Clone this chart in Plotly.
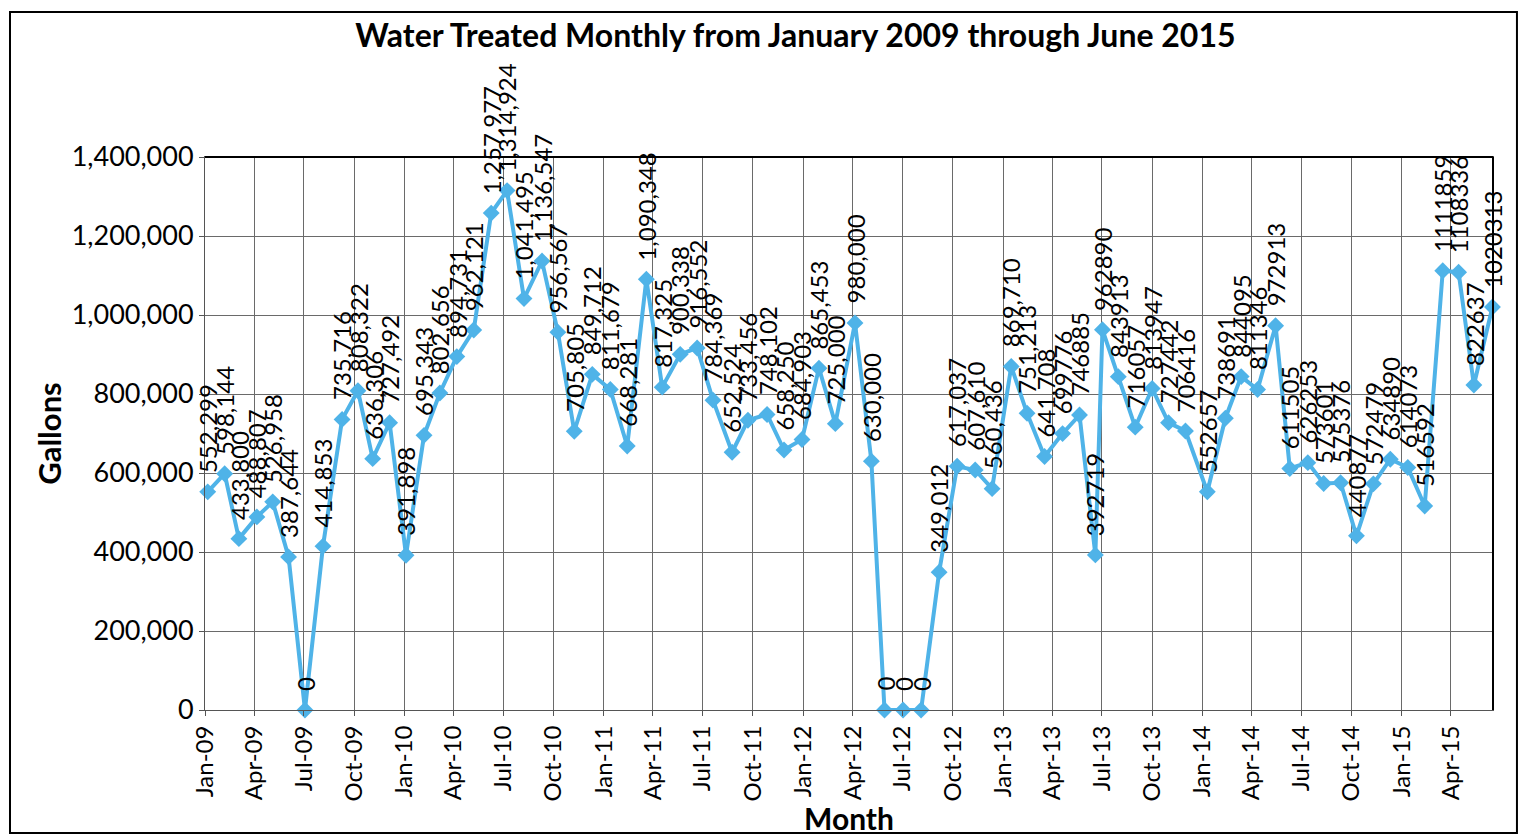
import plotly.graph_objects as go

# Reading dates and gallons treated
dates = [
    "2009-01-06", "2009-02-06", "2009-03-04", "2009-04-06", "2009-05-05", "2009-06-03",
    "2009-07-03", "2009-08-05", "2009-09-09", "2009-10-08", "2009-11-04", "2009-12-05",
    "2010-01-04", "2010-02-06", "2010-03-07", "2010-04-07", "2010-05-08", "2010-06-09",
    "2010-07-08", "2010-08-08", "2010-09-10", "2010-10-09", "2010-11-08", "2010-12-11",
    "2011-01-13", "2011-02-13", "2011-03-20", "2011-04-18", "2011-05-21", "2011-06-21",
    "2011-07-20", "2011-08-24", "2011-09-22", "2011-10-27", "2011-11-27", "2011-12-30",
    "2012-01-30", "2012-02-29", "2012-04-05", "2012-05-05", "2012-05-29", "2012-07-02",
    "2012-08-04", "2012-09-06", "2012-10-09", "2012-11-11", "2012-12-12", "2013-01-16",
    "2013-02-14", "2013-03-18", "2013-04-20", "2013-05-21", "2013-06-19", "2013-07-02",
    "2013-07-31", "2013-08-31", "2013-10-01", "2013-10-31", "2013-12-01", "2014-01-10",
    "2014-02-12", "2014-03-13", "2014-04-12", "2014-05-15", "2014-06-10", "2014-07-13",
    "2014-08-11", "2014-09-11", "2014-10-10", "2014-11-10", "2014-12-11", "2015-01-12",
    "2015-02-12", "2015-03-17", "2015-04-15", "2015-05-13", "2015-06-16",
]

gallons = [
    552299, 598144, 433800, 488807, 526958, 387644,
    0, 414853, 735716, 808322, 636306, 727492,
    391898, 695343, 802656, 894731, 962121, 1257977,
    1314924, 1041495, 1136547, 956567, 705805, 849712,
    811679, 668281, 1090348, 817325, 900338, 916552,
    784369, 652524, 733456, 748102, 658250, 684903,
    865453, 725000, 980000, 630000, 0, 0,
    0, 349012, 617037, 607610, 560436, 869710,
    751213, 641708, 699776, 746885, 392719, 962890,
    843913, 716057, 813947, 727442, 706416, 552657,
    738691, 844095, 811346, 972913, 611505, 626253,
    573601, 575376, 440877, 572479, 634890, 614073,
    516592, 1111859, 1108336, 822637, 1020313,
]

# The first labels in the source use thousands separators, later ones do not
comma_label_count = 50

y_ticks = [0, 200000, 400000, 600000, 800000, 1000000, 1200000, 1400000]
y_tick_text = ["0", "200,000", "400,000", "600,000", "800,000", "1,000,000", "1,200,000", "1,400,000"]

title_text = "Water Treated Monthly from January 2009 through June 2015"
x_title = "Month"
y_title = "Gallons"
x_range = ["2009-01-01", "2015-06-17"]

FONT = "Lato, 'Open Sans', sans-serif"
LINE_COLOR = "#4FB3E8"

labels = [f"{v:,}" if i < comma_label_count else f"{v}" for i, v in enumerate(gallons)]

fig = go.Figure()
fig.add_trace(go.Scatter(
    x=dates, y=gallons, mode="lines+markers",
    line=dict(color=LINE_COLOR, width=4),
    marker=dict(symbol="diamond", size=13, color=LINE_COLOR),
    hoverinfo="x+y", showlegend=False, cliponaxis=False,
))

annotations = []
for d, v, lab in zip(dates, gallons, labels):
    annotations.append(dict(
        x=d, y=v, xref="x", yref="y", text=lab, textangle=-90,
        showarrow=False, xanchor="center", yanchor="bottom", yshift=17,
        font=dict(family=FONT, size=24, color="black"),
    ))

fig.update_layout(
    width=1520, height=829,
    margin=dict(l=197, r=35, t=149, b=127),
    paper_bgcolor="white", plot_bgcolor="white",
    title=dict(text=f"<b>{title_text}</b>", x=0.518, xanchor="center", y=0.967, yanchor="middle",
               font=dict(family=FONT, size=32, color="black")),
    annotations=annotations,
    shapes=[
        dict(type="rect", xref="paper", yref="paper",
             x0=-0.1514, x1=1.0186, y0=-0.2224, y1=1.262,
             line=dict(color="black", width=2), layer="below"),
        dict(type="line", xref="paper", yref="paper", x0=0, x1=1, y0=1, y1=1,
             line=dict(color="black", width=2)),
        dict(type="line", xref="paper", yref="paper", x0=1, x1=1, y0=0, y1=1,
             line=dict(color="black", width=2)),
    ],
)

fig.update_xaxes(
    type="date", range=x_range, tick0="2009-01-01", dtick="M3", tickformat="%b-%y",
    tickangle=-90, tickfont=dict(family=FONT, size=24, color="black"),
    showgrid=True, gridcolor="#6a6a6a", gridwidth=1,
    showline=True, linecolor="#555555", linewidth=1, mirror=True,
    ticks="outside", ticklen=5, tickcolor="#555555",
    title=dict(text=f"<b>{x_title}</b>", font=dict(family=FONT, size=30, color="black"), standoff=2),
)
fig.update_yaxes(
    range=[0, 1400000], tickvals=y_ticks, ticktext=y_tick_text,
    tickfont=dict(family=FONT, size=27, color="black"),
    showgrid=True, gridcolor="#6a6a6a", gridwidth=1, zeroline=False,
    showline=True, linecolor="#555555", linewidth=1, mirror=True,
    ticks="outside", ticklen=5, tickcolor="#555555",
    title=dict(text=f"<b>{y_title}</b>", font=dict(family=FONT, size=31, color="black"), standoff=0),
)

fig.write_html("out.html")
